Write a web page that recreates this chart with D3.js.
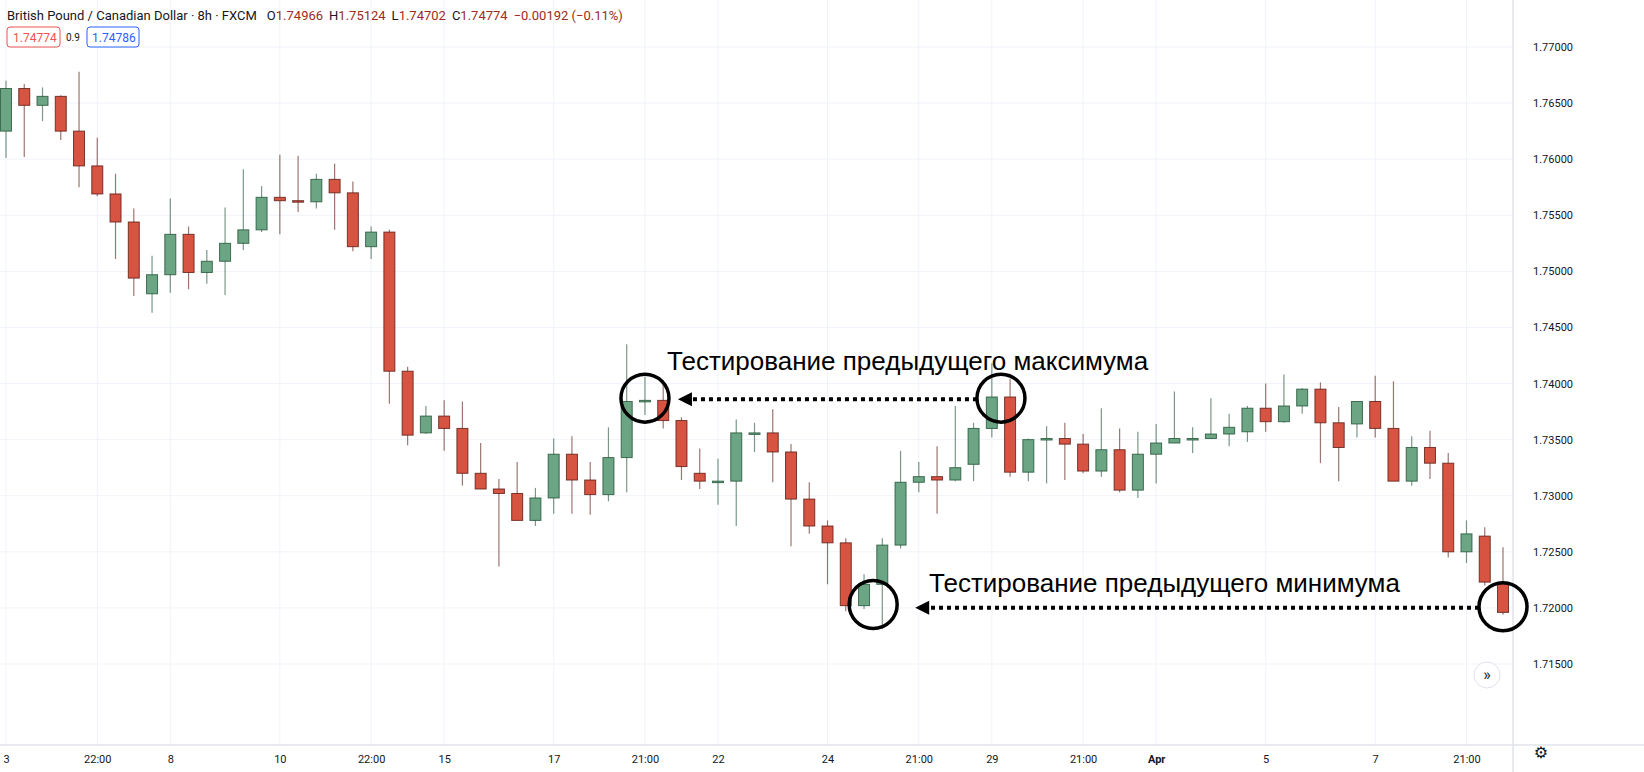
<!DOCTYPE html>
<html><head><meta charset="utf-8">
<script src="https://cdn.jsdelivr.net/npm/d3@7"></script>
<style>body{margin:0;background:#fff}svg{display:block}</style>
</head><body><svg id="c" width="1644" height="772"></svg>
<script>
const opens=[1.7625,1.7663,1.7648,1.7656,1.7625,1.7594,1.7569,1.7544,1.7480,1.7497,1.7533,1.7499,1.7509,1.7525,1.7537,1.7566,1.7563,1.7562,1.7582,1.7570,1.7522,1.7535,1.7411,1.7356,1.7371,1.7360,1.7320,1.7306,1.7302,1.7278,1.7298,1.7337,1.7314,1.7301,1.7334,1.7384,1.7385,1.7367,1.7320,1.7313,1.7313,1.7356,1.7356,1.7339,1.7297,1.7273,1.7258,1.7202,1.7221,1.7256,1.7312,1.7317,1.7314,1.7328,1.7360,1.7388,1.7321,1.7351,1.7351,1.7346,1.7322,1.7341,1.7305,1.7337,1.7347,1.7351,1.7351,1.7355,1.7357,1.7378,1.7366,1.7380,1.7395,1.7365,1.7364,1.7384,1.7360,1.7313,1.7343,1.7329,1.7250,1.7264,1.7222];
const highs=[1.7670,1.7667,1.7664,1.7657,1.7678,1.7619,1.7587,1.7556,1.7514,1.7565,1.7540,1.7519,1.7557,1.7591,1.7576,1.7604,1.7603,1.7587,1.7596,1.7580,1.7540,1.7537,1.7415,1.7380,1.7385,1.7384,1.7347,1.7315,1.7330,1.7307,1.7351,1.7353,1.7330,1.7361,1.7435,1.7406,1.7403,1.7370,1.7342,1.7333,1.7368,1.7365,1.7377,1.7346,1.7312,1.7278,1.7262,1.7230,1.7262,1.7340,1.7330,1.7344,1.7380,1.7365,1.7418,1.7404,1.7351,1.7362,1.7365,1.7355,1.7378,1.7360,1.7357,1.7364,1.7393,1.7361,1.7387,1.7373,1.7380,1.7400,1.7408,1.7396,1.7401,1.7379,1.7384,1.7407,1.7402,1.7353,1.7358,1.7338,1.7278,1.7272,1.7254];
const lows=[1.7601,1.7602,1.7634,1.7617,1.7575,1.7567,1.7511,1.7478,1.7463,1.7481,1.7484,1.7489,1.7479,1.7519,1.7535,1.7533,1.7553,1.7556,1.7537,1.7518,1.7511,1.7382,1.7345,1.7355,1.7340,1.7309,1.7306,1.7237,1.7278,1.7273,1.7284,1.7284,1.7283,1.7295,1.7303,1.7372,1.7360,1.7314,1.7306,1.7292,1.7273,1.7339,1.7312,1.7255,1.7266,1.7221,1.7197,1.7199,1.7181,1.7253,1.7303,1.7284,1.7313,1.7313,1.7352,1.7317,1.7313,1.7311,1.7314,1.7320,1.7317,1.7303,1.7298,1.7311,1.7347,1.7338,1.7351,1.7344,1.7348,1.7357,1.7365,1.7373,1.7329,1.7313,1.7352,1.7352,1.7313,1.7309,1.7315,1.7245,1.7240,1.7220,1.7194];
const closes=[1.7663,1.7648,1.7656,1.7625,1.7594,1.7569,1.7544,1.7494,1.7497,1.7533,1.7499,1.7509,1.7525,1.7537,1.7566,1.7563,1.7562,1.7582,1.7570,1.7522,1.7535,1.7411,1.7354,1.7371,1.7360,1.7320,1.7306,1.7302,1.7278,1.7298,1.7337,1.7314,1.7301,1.7334,1.7384,1.7385,1.7367,1.7326,1.7313,1.7313,1.7356,1.7356,1.7339,1.7297,1.7273,1.7258,1.7202,1.7221,1.7256,1.7312,1.7317,1.7314,1.7325,1.7360,1.7388,1.7321,1.7350,1.7351,1.7346,1.7322,1.7341,1.7305,1.7337,1.7347,1.7351,1.7351,1.7355,1.7361,1.7378,1.7366,1.7380,1.7395,1.7365,1.7343,1.7384,1.7360,1.7313,1.7343,1.7329,1.7250,1.7266,1.7223,1.7196];
const priceTicks=[1.770,1.765,1.760,1.755,1.750,1.745,1.740,1.735,1.730,1.725,1.720,1.715];
const timeTickIdx=[0,5,9,15,20,24,30,35,39,45,50,54,59,63,69,75,80];
const timeTickLabels=["3","22:00","8","10","22:00","15","17","21:00","22","24","21:00","29","21:00","Apr","5","7","21:00"];
const circleIdx=[35,54.5,47.5,82];
const circlePrice=[1.7387,1.7387,1.7203,1.7201];
const annoTexts=["Тестирование предыдущего максимума","Тестирование предыдущего минимума"];

const svg=d3.select("#c");
const x=d3.scaleLinear().domain([0,82]).range([6,1503]);
const y=d3.scaleLinear().domain([1.715,1.77]).range([664,47]);
const right=1513, bottom=745;

svg.append("g").selectAll("line").data(priceTicks).join("line")
 .attr("x1",0).attr("x2",right).attr("y1",d=>y(d)).attr("y2",d=>y(d)).attr("stroke","#f0f3fa");
svg.append("g").selectAll("line").data(timeTickIdx).join("line")
 .attr("x1",d=>x(d)).attr("x2",d=>x(d)).attr("y1",0).attr("y2",bottom).attr("stroke","#f0f3fa");

const ya=d3.axisRight(y).tickValues(priceTicks).tickFormat(d3.format(".5f")).tickSize(0).tickPadding(8);
const yg=svg.append("g").attr("transform",`translate(${right+12},0)`).call(ya);
yg.select(".domain").remove();
yg.selectAll("text").attr("font-family","Roboto, sans-serif").attr("font-size",11).attr("fill","#131722");
const xa=d3.axisBottom(x).tickValues(timeTickIdx).tickFormat((d,i)=>timeTickLabels[i]).tickSize(0).tickPadding(10);
const xg=svg.append("g").attr("transform",`translate(0,${bottom})`).call(xa);
xg.select(".domain").remove();
xg.selectAll("text").attr("font-family","Roboto, sans-serif").attr("font-size",11).attr("fill","#131722")
 .attr("font-weight",(d,i)=>timeTickLabels[i]=="Apr"?"bold":null);
svg.append("line").attr("x1",0).attr("x2",1644).attr("y1",bottom).attr("y2",bottom).attr("stroke","#e0e3eb").attr("stroke-width",1.5);
svg.append("line").attr("x1",right).attr("x2",right).attr("y1",0).attr("y2",772).attr("stroke","#e0e3eb").attr("stroke-width",1.5);

const data=opens.map((o,i)=>({i,o,h:highs[i],l:lows[i],c:closes[i]}));
const up=d=>d.c>=d.o;
const g=svg.append("g");
g.selectAll("line").data(data).join("line")
 .attr("x1",d=>x(d.i)).attr("x2",d=>x(d.i)).attr("y1",d=>y(d.h)).attr("y2",d=>y(d.l))
 .attr("stroke",d=>up(d)?"#225437":"#5b1a13").attr("stroke-opacity",0.6).attr("stroke-width",1.2);
g.selectAll("rect").data(data).join("rect")
 .attr("x",d=>x(d.i)-5.5).attr("width",11)
 .attr("y",d=>y(Math.max(d.o,d.c))).attr("height",d=>Math.max(1.5,Math.abs(y(d.o)-y(d.c))))
 .attr("fill",d=>up(d)?"#6ba583":"#d75442").attr("stroke",d=>up(d)?"#225437":"#5b1a13").attr("stroke-width",1).attr("stroke-opacity",0.8);

const a=svg.append("g");
a.selectAll("circle").data(circleIdx).join("circle")
 .attr("cx",d=>x(d)).attr("cy",(d,i)=>y(circlePrice[i])).attr("r",24)
 .attr("fill","none").attr("stroke","#000").attr("stroke-width",3.5);
function arrow(x1,x2,yy){
  a.append("line").attr("x1",x1).attr("x2",x2+14).attr("y1",yy).attr("y2",yy)
   .attr("stroke","#000").attr("stroke-width",4).attr("stroke-dasharray","4 4");
  a.append("path").attr("d",`M${x2},${yy}L${x2+14},${yy-7}L${x2+14},${yy+7}Z`).attr("fill","#000");
}
arrow(x(54.5)-24,x(35)+33,y(1.7387)+1);
arrow(x(82)-24,x(47.5)+42,y(1.7201)+1);
a.append("text").attr("x",667).attr("y",370).text(annoTexts[0]).attr("font-family","Liberation Sans, Arial").attr("font-size",26).attr("fill","#000");
a.append("text").attr("x",929).attr("y",592).text(annoTexts[1]).attr("font-family","Liberation Sans, Arial").attr("font-size",26).attr("fill","#000");

const hf="Roboto, sans-serif";
const ht=svg.append("text").attr("x",7).attr("y",20).attr("font-family",hf).attr("font-size",13).attr("fill","#131722");
ht.append("tspan").text("British Pound / Canadian Dollar · 8h · FXCM");
const red="#9c2b21";
[["O","1.74966"],["H","1.75124"],["L","1.74702"],["C","1.74774"]].forEach(([k,v],i)=>{
  ht.append("tspan").attr("dx",i==0?10:6).attr("fill","#131722").text(k); ht.append("tspan").attr("fill",red).text(v);});
ht.append("tspan").attr("dx",6).attr("fill",red).text("−0.00192 (−0.11%)");
svg.append("rect").attr("x",7).attr("y",27).attr("width",53).attr("height",20).attr("rx",3).attr("fill","#fff").attr("stroke","#ef5350");
svg.append("text").attr("x",13).attr("y",42).text("1.74774").attr("font-family",hf).attr("font-size",12).attr("fill","#ef5350");
svg.append("text").attr("x",66).attr("y",41).text("0.9").attr("font-family",hf).attr("font-size",10).attr("fill","#131722");
svg.append("rect").attr("x",87).attr("y",27).attr("width",52).attr("height",20).attr("rx",3).attr("fill","#fff").attr("stroke","#2962ff");
svg.append("text").attr("x",92).attr("y",42).text("1.74786").attr("font-family",hf).attr("font-size",12).attr("fill","#2962ff");

svg.append("circle").attr("cx",1487).attr("cy",675).attr("r",13).attr("fill","#fff").attr("stroke","#e0e3eb");
svg.append("text").attr("x",1487).attr("y",680).attr("text-anchor","middle").text("»").attr("font-size",16).attr("font-family",hf).attr("fill","#131722");
svg.append("text").attr("x",1541).attr("y",758).attr("text-anchor","middle").text("⚙").attr("font-size",16).attr("font-family","DejaVu Sans").attr("fill","#131722");
</script></body></html>
